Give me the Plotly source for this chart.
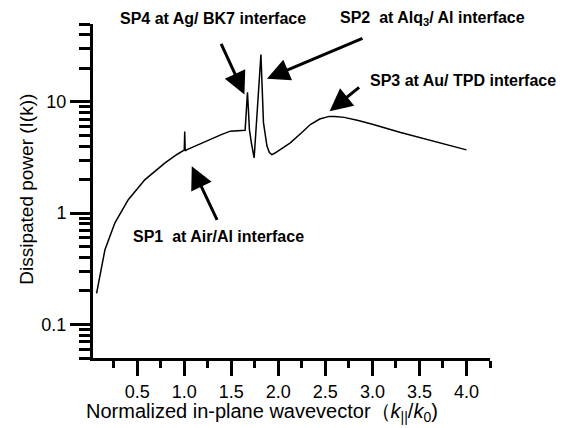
import plotly.graph_objects as go

# Normalized in-plane wavevector k||/k0
k = [0.068, 0.103, 0.157, 0.263, 0.405, 0.583, 0.796, 0.93, 1.0, 1.005, 1.01, 1.03,
     1.1, 1.2, 1.3, 1.4, 1.49, 1.55, 1.647, 1.672, 1.693, 1.715, 1.743, 1.765, 1.79,
     1.815, 1.842, 1.879, 1.905, 1.932, 1.96, 2.02, 2.127, 2.25, 2.34, 2.44, 2.54, 2.6,
     2.7, 2.85, 3.0, 3.3, 3.5, 3.75, 4.0]
# Dissipated power I(k)
power = [0.19, 0.27, 0.47, 0.82, 1.32, 2.0, 2.83, 3.4, 3.68, 5.4, 3.62, 3.72,
         3.95, 4.35, 4.75, 5.1, 5.45, 5.5, 5.55, 12.2, 5.6, 4.2, 3.14, 6.0, 12.7,
         26.6, 6.5, 4.0, 3.5, 3.36, 3.45, 3.72, 4.28, 5.3, 6.25, 7.0, 7.4, 7.4,
         7.25, 6.8, 6.3, 5.3, 4.8, 4.24, 3.7]

x_ticks = [0.5, 1.0, 1.5, 2.0, 2.5, 3.0, 3.5, 4.0]
x_minor = [0.25, 0.75, 1.25, 1.75, 2.25, 2.75, 3.25, 3.75, 4.25]
y_ticks = [0.1, 1, 10]
y_ticktext = ["0.1", "1", "10"]
y_minor = [0.05, 0.06, 0.07, 0.08, 0.09, 0.2, 0.3, 0.4, 0.5, 0.6, 0.7, 0.8,
           0.9, 2, 3, 4, 5, 6, 7, 8, 9, 20, 30, 40, 50]

labels = ["SP4 at Ag/ BK7 interface", "SP2  at Alq<sub>3</sub>/ Al interface",
          "SP3 at Au/ TPD interface", "SP1  at Air/Al interface"]

FONT = "Liberation Sans, Arial, sans-serif"

fig = go.Figure()
fig.add_trace(go.Scatter(x=k, y=power, mode="lines",
                         line=dict(color="black", width=1.5), showlegend=False,
                         hoverinfo="skip"))

# page body has an 8px margin, so the figure is 8px smaller on each axis
fig.update_layout(
    width=562, height=420,
    margin=dict(l=85, r=80, t=16, b=70),
    paper_bgcolor="white", plot_bgcolor="white",
    font=dict(family=FONT, color="black", size=18),
)

fig.update_xaxes(
    range=[0.03, 4.25], tickvals=x_ticks, ticktext=[f"{v:.1f}" for v in x_ticks],
    showgrid=False, zeroline=False, showline=True, linewidth=3, linecolor="black",
    ticks="outside", ticklen=15, tickwidth=3, tickcolor="black",
    minor=dict(ticks="outside", ticklen=7, tickwidth=3, tickcolor="black",
               tickvals=x_minor),
    tickfont=dict(size=18),
)

fig.update_yaxes(
    type="log", range=[-1.30103, 1.69897], tickvals=y_ticks, ticktext=y_ticktext,
    showgrid=False, zeroline=False, showline=True, linewidth=3, linecolor="black",
    ticks="outside", ticklen=20, tickwidth=3, tickcolor="black",
    minor=dict(ticks="outside", ticklen=11, tickwidth=3, tickcolor="black",
               tickvals=y_minor),
    tickfont=dict(size=18),
)

# axis titles
fig.add_annotation(xref="paper", yref="paper", x=0.426, y=-0.162,
                   text="Normalized in-plane wavevector（<i>k</i><sub>||</sub>/<i>k</i><sub>0</sub>)",
                   showarrow=False, font=dict(size=20), xanchor="center", yanchor="middle")
fig.add_annotation(xref="paper", yref="paper", x=-0.166, y=0.504,
                   text="Dissipated power (I(k))", textangle=-90,
                   showarrow=False, font=dict(size=19), xanchor="center", yanchor="middle")

# text labels
label_pos = [(0.302, 1.016), (0.854, 1.016), (0.931, 0.831), (0.315, 0.364)]
for (px, py), t in zip(label_pos, labels):
    fig.add_annotation(xref="paper", yref="paper", x=px, y=py, text=f"<b>{t}</b>",
                       showarrow=False, font=dict(size=16), xanchor="center",
                       yanchor="middle")

# arrows (tips in data coordinates; y is log10 for log axis)
arrows = [(1.64, 1.066, -24, -52), (1.879, 1.207, 97, -41),
          (2.545, 0.916, 31, -25), (1.08, 0.421, 26, 55)]
for x, y, ax, ay in arrows:
    fig.add_annotation(x=x, y=y, xref="x", yref="y", ax=ax, ay=ay, text="",
                       showarrow=True, arrowhead=2, arrowsize=1.5, arrowwidth=3,
                       arrowcolor="black")

fig.write_html("out.html")
